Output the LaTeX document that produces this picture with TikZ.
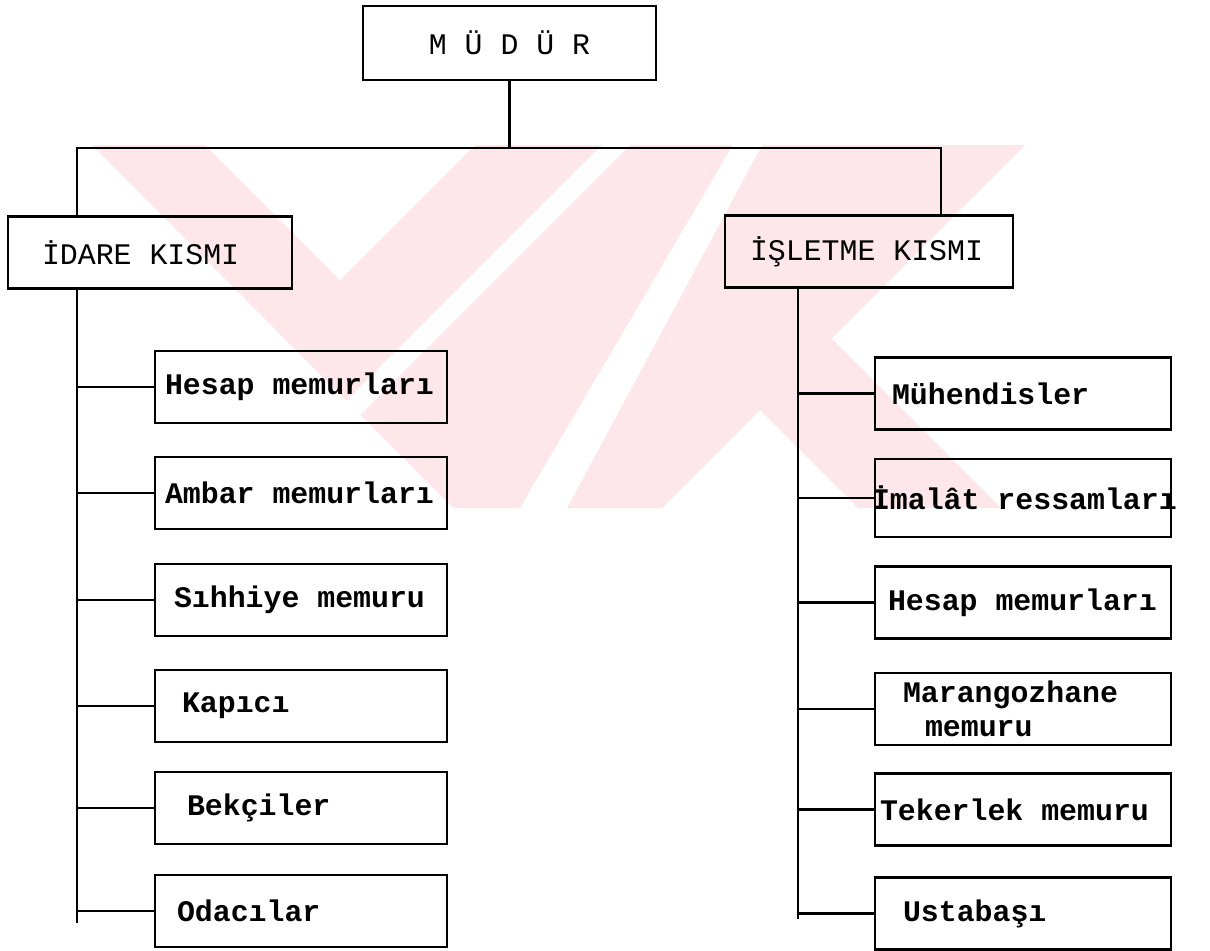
\documentclass[tikz,border=0pt]{standalone}
\usepackage{fontspec}
\setmonofont{Liberation Mono}
\usetikzlibrary{positioning}
\definecolor{wmpink}{RGB}{253,231,235}
% typewriter spacing (align=left narrows the spaces)
\newcommand\wsp{\spaceskip=0.6em\relax\xspaceskip=0.6em\relax}

\begin{document}
\begin{tikzpicture}[x=0.02cm,y=-0.02cm,line width=1.3pt,
  box/.style={draw,rectangle,inner xsep=0.2cm,inner ysep=0pt,minimum height=1.44cm,font=\ttfamily\fontsize{17}{19.5}\selectfont},
  head/.style={box,align=left},
  unit/.style={box,font=\ttfamily\bfseries\fontsize{17}{19.5}\selectfont,align=left}]
\useasboundingbox (0,0) rectangle (1210,950);
% watermark of the scan
\fill[wmpink] (92,145) -- (1025,145) -- (662,508) -- (453,508) -- cycle;
\fill[wmpink] (760,410) -- (831.5,338.5) -- (1001,508) -- (858,508) -- cycle;
\fill[white] (205,145) -- (475,145) -- (340,280) -- cycle;
\fill[white] (602,145) -- (630,145) -- (360,415) -- (346,401) -- cycle;
\fill[white] (733,145) -- (762,145) -- (567,508) -- (520,508) -- cycle;
% top levels
\node[head,align=center,text width=5.46cm,minimum height=1.48cm] (mudur) at (509.5,43) {\wsp M Ü D Ü R};
\node[head,text width=5.28cm] (idare) at (150,252.5) {\wsp\hspace*{0.48cm}İDARE KISMI};
\node[head,text width=5.36cm] (isletme) at (869,251.5) {\wsp\hspace*{0.3cm}İŞLETME KISMI};
\coordinate (busL) at (77,148);
\coordinate (busR) at (941,148);
\coordinate (spL) at (77,923);
\coordinate (spR) at (798,919);
\draw (mudur.south) -- (mudur.south |- busL);
\draw (idare.north -| busL) -- (busL) -- (busR) -- (isletme.north -| busR);
\draw (idare.south -| spL) -- (spL);
\draw (isletme.south -| spR) -- (spR);
% left column
\foreach \n/\y/\ind/\txt in {a/387/0/Hesap memurları,b/493/0/Ambar memurları,c/600/0.18/Sıhhiye memuru,d/706/0.34/Kapıcı,e/808/0.44/Bekçiler,f/911/0.24/Odacılar}{
  \node[unit,text width=5.44cm] (l\n) at (301,\y) {\wsp\hspace*{\ind cm}\txt};
  \draw (l\n.west -| spL) -- (l\n.west);
}
% right column
\foreach \n/\y/\h/\ind/\txt in {a/393.5/1.44/0.14/Mühendisler,b/498/1.56/-0.26/{\mbox{İmalât ressamları}},c/602.5/1.44/0.06/Hesap memurları,d/709/1.44/0.36/{Marangozhane\\\hspace*{0.8cm}memuru},e/809.5/1.44/-0.1/Tekerlek memuru,f/913.5/1.44/0.36/Ustabaşı}{
  \node[unit,text width=5.52cm,minimum height=\h cm] (r\n) at (1023,\y) {\wsp\hspace*{\ind cm}\txt};
  \draw (r\n.west -| spR) -- (r\n.west);
}
\end{tikzpicture}
\end{document}
